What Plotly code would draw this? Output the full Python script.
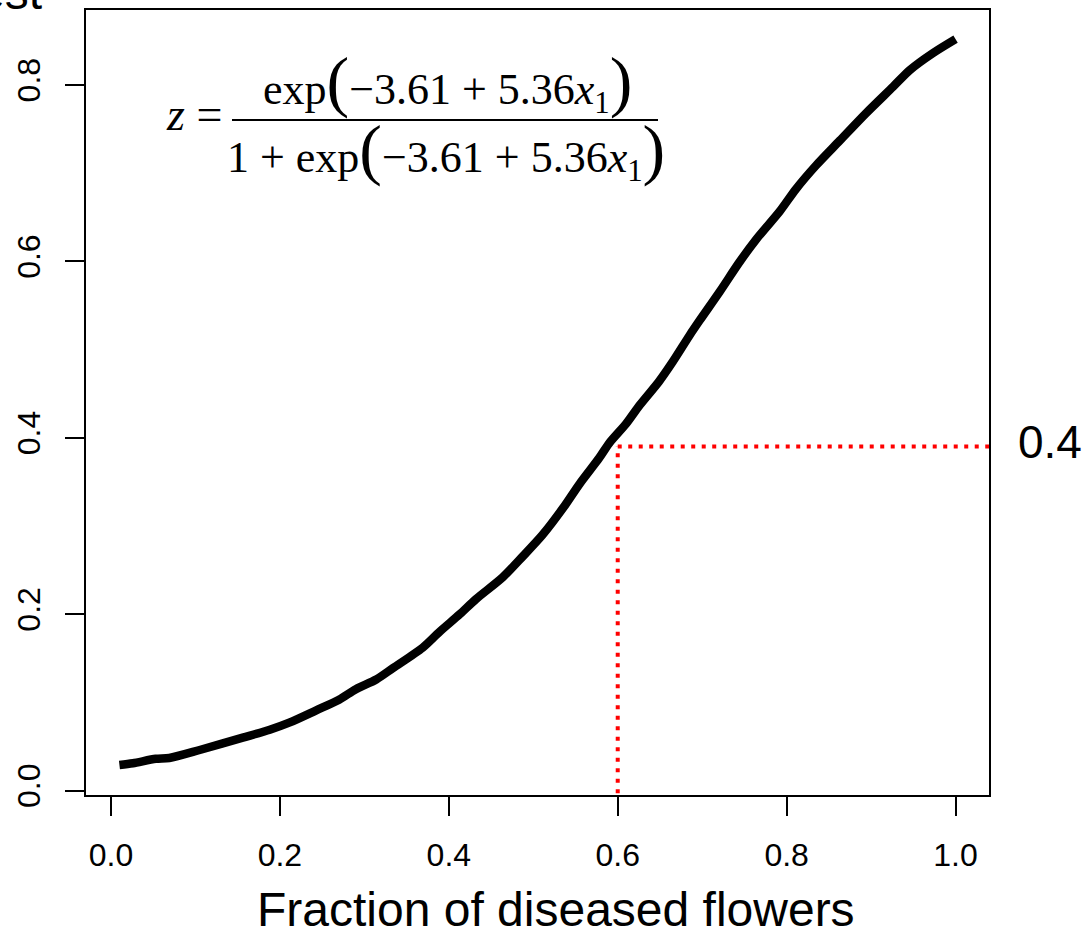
import plotly.graph_objects as go

# Fitted probability along the fraction of diseased flowers
frac_diseased = [0.01, 0.026, 0.053, 0.069, 0.105, 0.156, 0.188, 0.211, 0.243, 0.270,
                 0.290, 0.314, 0.334, 0.369, 0.389, 0.413, 0.432, 0.464, 0.488, 0.511,
                 0.535, 0.555, 0.578, 0.590, 0.610, 0.626, 0.649, 0.665, 0.685, 0.697,
                 0.721, 0.744, 0.764, 0.792, 0.811, 0.835, 0.863, 0.894, 0.926, 0.946,
                 0.973, 1.0]
prob = [0.029, 0.031, 0.036, 0.037, 0.046, 0.060, 0.069, 0.077, 0.091, 0.103,
        0.115, 0.126, 0.139, 0.162, 0.180, 0.200, 0.217, 0.242, 0.266, 0.290,
        0.320, 0.348, 0.377, 0.394, 0.416, 0.437, 0.464, 0.486, 0.516, 0.533,
        0.566, 0.599, 0.625, 0.657, 0.682, 0.709, 0.737, 0.768, 0.798, 0.817,
        0.836, 0.852]

# Reference point marked by the dotted guide lines
cutoff_x = 0.6
cutoff_y = 0.39

x_ticks = [0.0, 0.2, 0.4, 0.6, 0.8, 1.0]
y_ticks = [0.0, 0.2, 0.4, 0.6, 0.8]

x_title = "Fraction of diseased flowers"
corner_text = "est"

W, H = 1090, 935
L, R, T, B = 86, 101, 10, 140
X_RANGE = [-0.0296, 1.0396]
Y_RANGE = [-0.0050, 0.8850]

SANS = "Liberation Sans, Arial, Helvetica, sans-serif"
SERIF = "Liberation Serif, Times New Roman, serif"


def pxx(p):
    """pixel column -> paper x"""
    return (p - L) / (W - L - R)


def pxy(p):
    """pixel row -> paper y"""
    return (H - B - p) / (H - T - B)


fig = go.Figure()

fig.add_trace(go.Scatter(
    x=frac_diseased, y=prob, mode="lines",
    line=dict(color="black", width=8.5, shape="spline", smoothing=0.8),
    hoverinfo="skip", showlegend=False,
))

guide = dict(color="#FF0000", width=4, dash="4px,6.5px")
fig.add_trace(go.Scatter(
    x=[cutoff_x, cutoff_x], y=[Y_RANGE[0] - 0.01, cutoff_y], mode="lines",
    line=guide, hoverinfo="skip", showlegend=False,
))
fig.add_trace(go.Scatter(
    x=[cutoff_x, X_RANGE[1] + 0.05], y=[cutoff_y, cutoff_y], mode="lines",
    line=guide, hoverinfo="skip", showlegend=False,
))

axis_common = dict(
    showgrid=False, zeroline=False, showline=True, linecolor="black", linewidth=2,
    mirror=True, ticks="outside", ticklen=19, tickwidth=2, tickcolor="black",
    tickfont=dict(family=SANS, size=32, color="black"), automargin=False,
)
fig.update_xaxes(range=X_RANGE, tickvals=x_ticks, tickformat=".1f",
                 ticklabelstandoff=12, **axis_common)
fig.update_yaxes(range=Y_RANGE, tickvals=y_ticks, tickformat=".1f",
                 tickangle=-90, ticklabelstandoff=12, **axis_common)

ann = []
# x-axis title
ann.append(dict(x=pxx(556), y=pxy(909), xref="paper", yref="paper",
                text=x_title, showarrow=False, xanchor="center", yanchor="middle",
                font=dict(family=SANS, size=48, color="black")))
# label of the guide level
ann.append(dict(x=pxx(1016), y=pxy(442), xref="paper", yref="paper",
                text=f"{cutoff_y:.1f}", showarrow=False, xanchor="left", yanchor="middle",
                font=dict(family=SANS, size=46, color="black")))
# partly visible heading at the top-left corner
ann.append(dict(x=pxx(44), y=pxy(-8), xref="paper", yref="paper",
                text=corner_text, showarrow=False, xanchor="right", yanchor="middle",
                font=dict(family=SANS, size=48, color="black")))

# model formula drawn as a stacked fraction
big = "<span style='font-size:68px'>%s</span>"
body = "\u22123.61 + 5.36<i>x</i><sub>1</sub>"
numer = "exp" + big % "(" + body + big % ")"
denom = "1 + exp" + big % "(" + body + big % ")"
ann.append(dict(x=pxx(447), y=pxy(82), xref="paper", yref="paper",
                text=numer, showarrow=False, xanchor="center", yanchor="middle",
                font=dict(family=SERIF, size=44, color="black")))
ann.append(dict(x=pxx(446), y=pxy(150), xref="paper", yref="paper",
                text=denom, showarrow=False, xanchor="center", yanchor="middle",
                font=dict(family=SERIF, size=44, color="black")))
ann.append(dict(x=pxx(194), y=pxy(115), xref="paper", yref="paper",
                text="<i>z</i> =", showarrow=False, xanchor="center", yanchor="middle",
                font=dict(family=SERIF, size=46, color="black")))

fig.add_shape(type="line", xref="paper", yref="paper",
              x0=pxx(232), x1=pxx(658), y0=pxy(120), y1=pxy(120),
              line=dict(color="black", width=2))

fig.update_layout(
    width=W, height=H,
    margin=dict(l=L, r=R, t=T, b=B, autoexpand=False),
    paper_bgcolor="white", plot_bgcolor="white",
    annotations=ann, showlegend=False,
)

fig.write_html("out.html")
